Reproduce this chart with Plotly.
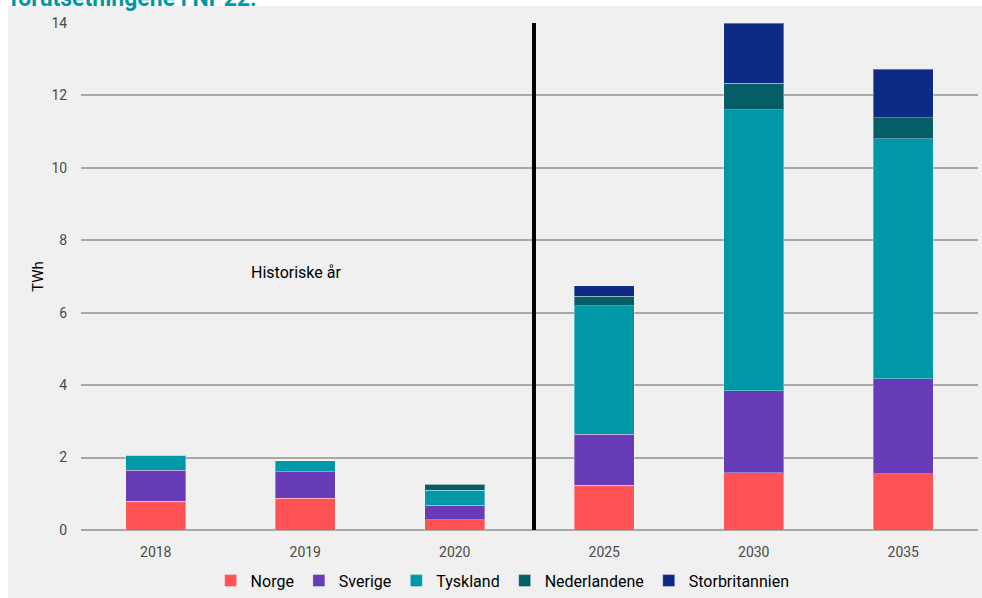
import plotly.graph_objects as go

years = ["2018", "2019", "2020", "2025", "2030", "2035"]
norge = [0.80, 0.875, 0.285, 1.23, 1.58, 1.56]
sverige = [0.85, 0.735, 0.395, 1.42, 2.27, 2.61]
tyskland = [0.41, 0.30, 0.42, 3.54, 7.75, 6.64]
nederlandene = [0.0, 0.0, 0.17, 0.26, 0.74, 0.58]
storbritannien = [0.0, 0.0, 0.0, 0.30, 1.66, 1.33]

series = [
    ("Norge", norge, "#FF5254"),
    ("Sverige", sverige, "#673AB7"),
    ("Tyskland", tyskland, "#0097A7"),
    ("Nederlandene", nederlandene, "#055E66"),
    ("Storbritannien", storbritannien, "#0D2B85"),
]

W, H = 982, 598
L, R, T, B = 81, 4, 23, 68
plot_w = W - L - R
plot_h = H - T - B

fig = go.Figure()
for name, vals, col in series:
    fig.add_trace(go.Bar(
        x=years, y=vals, name=name,
        marker=dict(color=col, line=dict(color="rgba(255,255,255,0.35)", width=1)),
        width=0.4,
    ))

# divider between historical and projected years
fig.add_shape(type="line", xref="x", yref="y", x0=2.53, x1=2.53, y0=0, y1=14,
              line=dict(color="black", width=4))

# white page strips around the grey panel
fig.add_shape(type="rect", xref="paper", yref="paper",
              x0=-L / plot_w - 0.01, x1=1 + R / plot_w + 0.01,
              y0=1 + (T - 6) / plot_h, y1=1 + T / plot_h + 0.01,
              fillcolor="white", line=dict(width=0), layer="below")
fig.add_shape(type="rect", xref="paper", yref="paper",
              x0=-L / plot_w - 0.01, x1=-(L - 8) / plot_w,
              y0=-B / plot_h - 0.01, y1=1 + T / plot_h + 0.01,
              fillcolor="white", line=dict(width=0), layer="below")

fig.add_annotation(text="Historiske år", xref="x", yref="y", x=0.94, y=7.1,
                   showarrow=False, font=dict(size=16, color="black", family="Roboto"))

fig.add_annotation(text="<b>forutsetningene i NP22.</b>", xref="paper", yref="paper",
                   x=-(L - 8) / plot_w, xanchor="left",
                   y=1 + (T - 14) / plot_h, yanchor="bottom",
                   showarrow=False, font=dict(size=23, color="#0097A7", family="Roboto"))

fig.update_layout(
    width=W, height=H,
    margin=dict(l=L, r=R, t=T, b=B, autoexpand=False),
    paper_bgcolor="#F0F0F0", plot_bgcolor="#F0F0F0",
    barmode="stack",
    font=dict(family="Roboto", color="#4A4A4A", size=14),
    legend=dict(orientation="h", x=0.47, xanchor="center", y=-0.1, yanchor="middle",
                font=dict(size=16, color="black"), itemwidth=30, traceorder="normal",
                bgcolor="rgba(0,0,0,0)"),
    xaxis=dict(type="category", showgrid=False, showline=False,
               ticks="outside", ticklen=9, tickcolor="rgba(0,0,0,0)",
               tickfont=dict(size=14, color="#4A4A4A")),
    yaxis=dict(range=[0, 14], dtick=2, showgrid=True, gridcolor="#A8A8A8", gridwidth=1.5,
               zeroline=True, zerolinecolor="#A8A8A8", zerolinewidth=1.5,
               ticks="outside", ticklen=10, tickcolor="rgba(0,0,0,0)",
               tickfont=dict(size=14, color="#4A4A4A"),
               title=dict(text="TWh", font=dict(size=15, color="black"), standoff=4)),
    bargap=0.6,
)

fig.write_html("out.html")
